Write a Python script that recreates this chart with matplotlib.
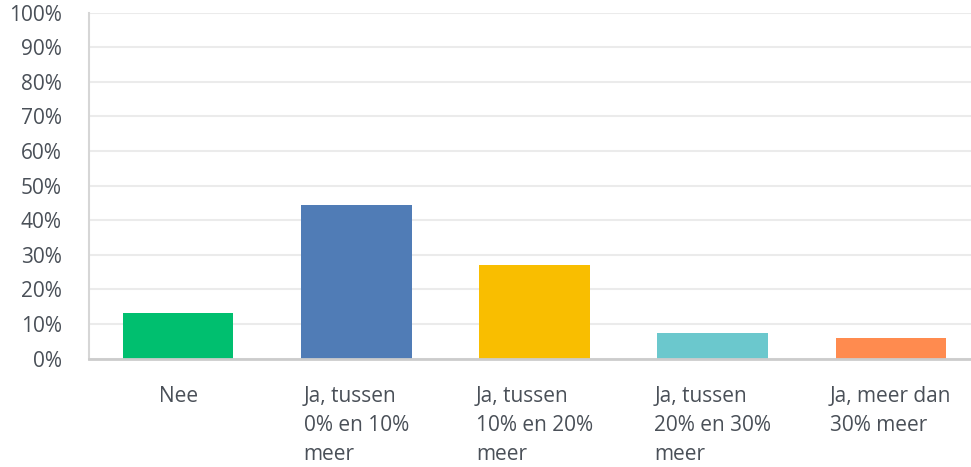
import matplotlib.pyplot as plt
from matplotlib.ticker import FuncFormatter

plt.rcParams["font.family"] = ["Open Sans", "DejaVu Sans"]

categories = [
    "Nee",
    "Ja, tussen\n0% en 10%\nmeer",
    "Ja, tussen\n10% en 20%\nmeer",
    "Ja, tussen\n20% en 30%\nmeer",
    "Ja, meer dan\n30% meer",
]
values = [13.2, 44.4, 27.1, 7.4, 6.0]
colors = ["#00bf6f", "#507cb6", "#f9be00", "#6bc8cd", "#ff8b4f"]
yticks = list(range(0, 101, 10))

text_color = "#4a5058"

fig = plt.figure(figsize=(9.71, 4.67), dpi=100)
ax = fig.add_axes([89 / 971, 108.3 / 467, (971 - 89) / 971, 346.2 / 467])

x = list(range(len(categories)))
ax.bar(x, values, width=0.62, color=colors, zorder=3)

ax.set_xlim(-0.5, 4.45)
ax.set_ylim(0, 100)
ax.set_yticks(yticks)
ax.yaxis.set_major_formatter(FuncFormatter(lambda v, _: f"{int(v)}%"))
ax.grid(axis="y", color="#ebebeb", linewidth=1.5, zorder=0)
ax.tick_params(axis="y", length=0, pad=19.5, labelsize=15, labelcolor=text_color)

ax.set_xticks(x)
ax.set_xticklabels(categories, multialignment="left", linespacing=1.5)
ax.tick_params(axis="x", length=0, pad=20, labelsize=15, labelcolor=text_color)

for side in ["top", "right"]:
    ax.spines[side].set_visible(False)
ax.spines["left"].set_color("#d6d6d6")
ax.spines["left"].set_linewidth(1.5)
ax.spines["bottom"].set_color("#cccccc")
ax.spines["bottom"].set_linewidth(2)
ax.spines["left"].set_zorder(4)
ax.spines["bottom"].set_zorder(4)

fig.savefig("out.png", dpi=100)
